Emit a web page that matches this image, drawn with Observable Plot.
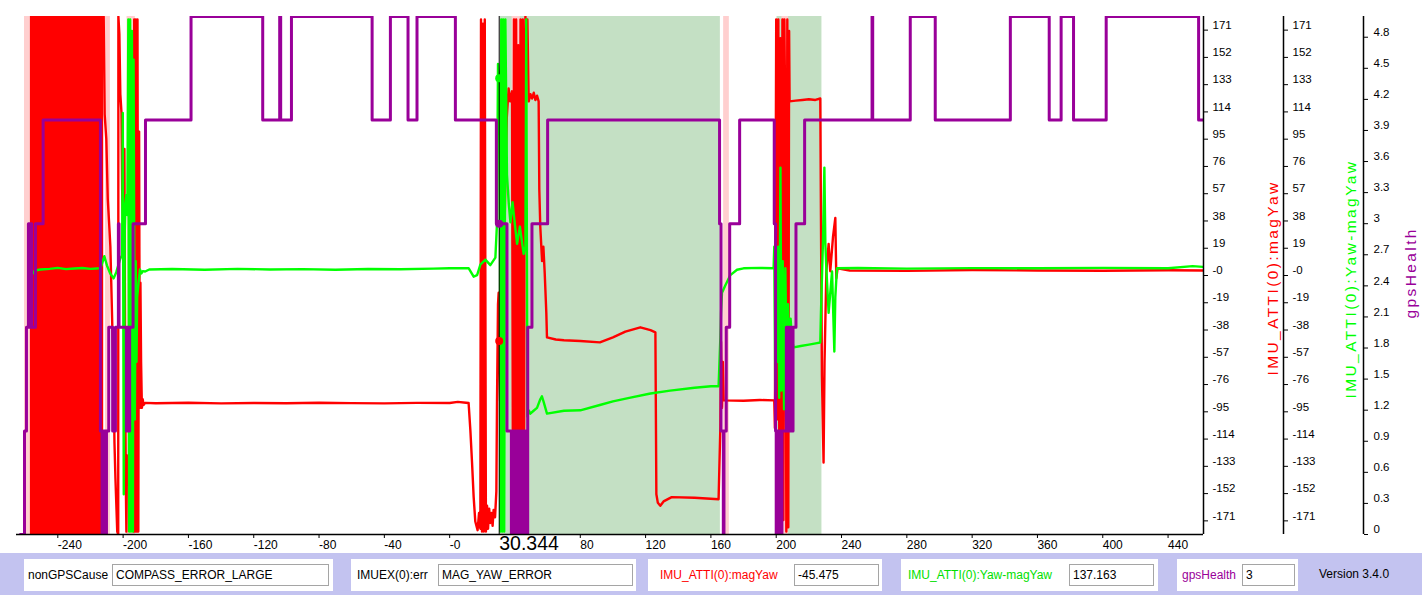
<!DOCTYPE html>
<html><head><meta charset="utf-8">
<script src="https://cdn.jsdelivr.net/npm/d3@7"></script>
<script src="https://cdn.jsdelivr.net/npm/@observablehq/plot@0.6"></script>
<style>
html,body{margin:0;padding:0;background:#fff;font-family:"Liberation Sans",Arial,sans-serif;}
#chart svg{display:block;}
.panel{position:relative;width:1422px;height:42px;background:#c3c3f0;}
.box{position:absolute;top:6px;height:32px;background:#fff;}
.lbl{position:absolute;top:0;line-height:32px;font-size:12px;white-space:nowrap;}
.inp{position:absolute;top:5px;height:20px;border:1px solid #a5a5a5;background:#fff;font-size:12px;line-height:20px;padding-left:3px;box-sizing:content-box;white-space:nowrap;}
.ver{position:absolute;left:1319px;top:0;line-height:42px;font-size:12px;}
</style></head>
<body>
<div id="chart"></div>
<div class="panel" id="panel"></div>
<script>
// ---------- data (time in s, values in degrees / health level) ----------
const magYawPts = [
 [-211.9,180],[-211.3,112],[-210.3,95],[-209.4,53],[-208.4,33],[-207.8,20],[-205.8,-74],[-205.3,-116],
 [-204.7,-141],[-203.6,-178],[-203.0,-180],[-202.9,180],[-202.3,168],[-201.7,126],[-201.0,113],[-200.6,60],
 [-200.0,33],[-199.6,10],[-199.2,88],[-198.8,-60],[-198.4,-138],[-198.0,-178],[-197.6,-125],[-197.0,-142],
 [-196.6,-130],[-195.5,-150],[-194.5,-165],[-193.5,-178],[-193.2,178],[-192.7,-178],[-192.2,178],[-191.7,-178],
 [-191.2,178],[-190.7,-178],[-190.2,100],[-189.8,-92],[-189.4,-5],[-189.0,-60],[-188.5,-92],[-188.0,-86],
 [-187.5,-90],[-186.5,-88.5],[-180,-88.8],[-160,-88.4],[-140,-88.9],[-120,-88.6],[-100,-88.8],[-80,-88.4],
 [-60,-88.7],[-40,-88.9],[-20,-88.5],[0,-88.6],[5,-87.8],[10,-88.4],[11.6,-88.6],[12.7,-108],[13.7,-130],
 [14.7,-154],[15.7,-171],[17.1,-177],[18.0,-165],[18.8,-176],[19.2,178],[19.8,-178],[20.4,175],[20.9,-178],
 [21.5,178],[22.2,-178],[22.9,-160],[23.5,-176],[24.2,-162],[24.9,-172],[25.6,-165],[26.3,-174],[26.9,-163],
 [27.8,-168],[28.6,-150],[29.0,-87],[29.6,-20],[30.0,-12],[30.344,-45.475],[30.9,-87],[31.5,-40],[32.3,-75],
 [33.0,-12],[34.0,60],[35.0,110],[36.1,130],[37.0,121],[38.2,128],[38.8,-178],[39.4,178],[40.0,-150],
 [40.7,178],[41.4,-178],[42.0,160],[42.7,-178],[43.4,178],[44.1,-170],[44.8,178],[45.5,-178],[46.0,150],
 [46.4,180],[47.0,150],[47.6,178],[48.4,121],[49.5,126],[50.5,123],[51.5,127],[52.5,122],[53.5,125],
 [54.5,121],[54.9,60],[55.5,34],[56.6,10],[57.4,20],[58.2,2],[59.2,-26],[59.6,-43],[65,-44.5],[70,-45],
 [80,-45.5],[92,-46.5],[100,-43],[107.6,-39],[116.8,-36],[123,-38],[126,-39.5],[126.6,-152],[127.5,-158],
 [129,-160],[131,-157],[136,-154],[150,-154.5],[164.7,-155.5],[165.8,-105],[166.2,-46],[166.8,-92],
 [167.3,-60],[167.8,-86.8],[180,-87],[190,-86.5],[198.8,-86.8],[199.2,-106],[200.0,178],[200.7,-100],
 [201.3,178],[202.0,-178],[202.6,165],[203.2,-178],[203.8,178],[204.4,-170],[205.0,178],[205.6,100],
 [206.2,-178],[206.8,178],[207.4,-175],[207.9,170],[208.2,121],[212,121.5],[216,122],[220,122.5],[224,122],
 [227,123],[227.4,41],[228.0,-69.7],[229.0,-130],[229.6,-60],[230.7,2.8],[232.1,22],[233.1,3],[234.8,27],
 [236.2,40],[236.8,-2],[237.6,5],[245,3.5],[280,3.2],[320,3.8],[360,3.5],[400,3.3],[440,3.6],[461.7,3.5]
];
const yawMinusMagPts = [
 [-255.4,1.4],[-254.0,3.5],[-250.6,4.2],[-245,4.6],[-240,5.3],[-235,4.4],[-230,4.9],[-225,5.2],[-220,4.6],
 [-213.9,5.0],[-212.9,8.3],[-211.5,13.4],[-209.9,7],[-207.9,1.4],[-205.8,-2],[-204.2,2.3],[-201.7,11.8],
 [-200.6,14],[-200.2,113],[-199.6,-152],[-199.0,30],[-198.6,50],[-198.0,56],[-197.4,42],[-196.8,178],
 [-196.3,-178],[-195.7,178],[-195.2,-178],[-194.6,170],[-194.0,-178],[-193.6,150],[-193.2,20],[-192.8,-100],
 [-192.3,10],[-191.8,-60],[-191.4,-15],[-190.5,-4.6],[-189.7,4.2],[-188.8,1.4],[-188.0,3.0],[-186.5,2.8],
 [-184,4.2],[-170,4.5],[-150,4.0],[-130,4.6],[-110,4.2],[-90,4.4],[-70,4.0],[-50,4.5],[-30,4.3],[-10,4.8],
 [0,5.0],[11.6,5.1],[14.7,-0.8],[16.8,0.2],[18.8,7.6],[21.9,11],[24.9,7.2],[28.0,12.4],[29.0,36.7],
 [29.6,147],[30.344,137.163],[30.8,120],[31.0,-178],[31.6,178],[32.2,-178],[32.8,178],[33.4,-178],[34.1,178],
 [35.1,70],[36.2,50],[37.2,37],[38.5,51],[40.0,35],[41.3,22],[43.0,34],[45.3,15],[46.4,20],[46.9,178],
 [47.6,-98],[48.4,-93.7],[49.4,-96],[51.4,-94],[53.5,-92],[55.5,-86],[56.5,-84],[57.6,-88],[59.6,-96],
 [70,-94],[80,-93.7],[92,-90],[100,-87.5],[110,-85],[123,-82],[135,-80],[150,-78],[160,-77],[164.7,-77],
 [165.8,-43],[166.2,-26],[166.8,-12],[168.8,-7],[171.9,0.3],[176.0,4],[180.0,5],[190,5.3],[198.4,5],
 [198.8,20],[199.4,-80],[200.0,10],[200.6,-60],[201.2,20],[201.8,-85],[202.6,75],[203.2,-80],[204.0,10],
 [204.8,-93],[205.6,5],[206.4,-70],[207.2,-20],[208.0,-60],[208.8,-30],[209.7,-45],[210.7,-50],[215,-49],
 [220,-48],[225,-47],[227.0,-46.6],[227.4,-26],[228.6,22],[229.5,75],[230.1,22],[230.7,5],[232.1,-26],
 [234.2,2.8],[235.6,-52.8],[236.2,-15],[237.2,5],[250,5.2],[280,4.8],[320,5.1],[360,5.0],[400,5.3],
 [440,5.0],[455,6.5],[461.7,6.0]
];
const gpsHealthPts = [
 [-262.9,0],[-260.4,1],[-259.2,2],[-258.0,3],[-257.6,2],[-257.2,3],[-256.8,2],[-256.4,3],[-256.0,2],
 [-253.7,3],[-249.0,4],[-213.9,1],[-212.9,0],[-212.5,1],[-212.1,0],[-211.7,1],[-211.3,0],[-210.9,1],
 [-210.5,0],[-210.2,1],[-208.8,2],[-206.4,1],[-204.7,2],[-202.9,3],[-202.5,2],[-198.0,1],[-197.6,2],
 [-197.2,1],[-196.8,2],[-196.4,1],[-196.0,2],[-193.9,3],[-186.3,4],[-158.4,5],[-114.5,4],[-104.1,5],
 [-103.5,4],[-96.9,5],[-47.5,4],[-36.3,5],[-25.5,4],[-20.0,5],[3.5,4],[28.6,3],[35.1,1],[37.8,0],[38.4,1],
 [39.0,0],[39.6,1],[40.2,0],[40.8,1],[41.4,0],[42.0,1],[42.6,0],[43.2,1],[43.8,0],[44.4,1],[45.0,0],
 [45.6,1],[46.2,0],[46.8,1],[47.4,0],[47.8,2],[50.4,3],[60.0,4],[165.3,3],[166.2,1],[167.6,0],[168.0,1],
 [169.4,2],[171.5,3],[177.6,4],[198.8,3],[199.6,1],[200.0,0],[200.5,1],[201.0,0],[201.5,1],[202.0,0],
 [202.5,1],[203.0,0],[203.5,1],[206.2,2],[206.7,1],[207.2,2],[207.7,1],[208.2,2],[208.7,1],[209.2,2],
 [209.7,1],[210.3,2],[212.1,3],[217.4,4],[258.7,5],[259.1,4],[282.1,5],[297.4,4],[343.4,5],[367.2,4],
 [374.5,5],[382.1,4],[402.1,5],[458.7,4],[461.7,4]
];
// dense wrap-around noise of magYaw at the start (fills the whole range)
const noiseStart = [-256.8];
const noiseEnd = [-211.9];
// background state bands
const greenBandStart = [31.0, 200.5];
const greenBandEnd = [165.8, 228.0];
const pinkBandStart = [-260.4, -210.8, -197.6, 38.2, 167.8, 203.5];
const pinkBandEnd = [-256.8, -207.8, -192.5, 43.3, 171.3, 207.6];
// cursor
const cursorT = 30.344;
const cursorMagYaw = -45.475;
const cursorYawMinusMag = 137.163;
const cursorHealth = 3;
// axes
const xDomain = [-265.3, 461.7];
const xTickVals = [-240,-200,-160,-120,-80,-40,0,80,120,160,200,240,280,320,360,400,440];
const xTickLabels = ["-240","-200","-160","-120","-80","-40","-0","80","120","160","200","240","280","320","360","400","440"];
const yawTickVals = [-170.526,-151.579,-132.632,-113.684,-94.737,-75.789,-56.842,-37.895,-18.947,0,18.947,37.895,56.842,75.789,94.737,113.684,132.632,151.579,170.526];
const yawTickLabels = ["-171","-152","-133","-114","-95","-76","-57","-38","-19","-0","19","38","57","76","95","114","133","152","171"];
const healthTickVals = [0,0.3,0.6,0.9,1.2,1.5,1.8,2.1,2.4,2.7,3,3.3,3.6,3.9,4.2,4.5,4.8];
const healthTickLabels = ["0","0.3","0.6","0.9","1.2","1.5","1.8","2.1","2.4","2.7","3","3.3","3.6","3.9","4.2","4.5","4.8"];
const healthDomain = [0, 5];
const titles = ["IMU_ATTI(0):magYaw", "IMU_ATTI(0):Yaw-magYaw", "gpsHealth"];
const panelItems = [
  {label:"nonGPSCause", value:"COMPASS_ERROR_LARGE", color:"#000"},
  {label:"IMUEX(0):err", value:"MAG_YAW_ERROR", color:"#000"},
  {label:"IMU_ATTI(0):magYaw", value:"-45.475", color:"#ff0000"},
  {label:"IMU_ATTI(0):Yaw-magYaw", value:"137.163", color:"#00e000"},
  {label:"gpsHealth", value:"3", color:"#990099"}
];
const versionText = "Version 3.4.0";

// ---------- build ----------
const RED = "#ff0000", GREEN = "#00ff00", PURPLE = "#990099";
const yDomain = [-180, 180];
// gpsHealth is plotted on its own axis (0..5) that shares the vertical extent
const hToY = h => yDomain[0] + (h - healthDomain[0]) / (healthDomain[1] - healthDomain[0]) * (yDomain[1] - yDomain[0]);

const mag = magYawPts.map(([t, v]) => ({t, v}));
const yaw = yawMinusMagPts.map(([t, v]) => ({t, v}));
const health = gpsHealthPts.map(([t, h]) => ({t, y: hToY(h)}));
const greenBands = greenBandStart.map((s, i) => ({x1: s, x2: greenBandEnd[i]}));
const pinkBands = pinkBandStart.map((s, i) => ({x1: s, x2: pinkBandEnd[i]}));
const noise = noiseStart.map((s, i) => ({x1: s, x2: noiseEnd[i]}));
const xLab = new Map(xTickVals.map((v, i) => [v, xTickLabels[i]]));
const yLab = new Map(yawTickVals.map((v, i) => [v, yawTickLabels[i]]));
const hPos = healthTickVals.map(hToY);
const hLab = new Map(hPos.map((v, i) => [v, healthTickLabels[i]]));

const axisOffsets = [0, 80, 160];
const titleStyle = {rotate: -90, fontSize: 15.5, frameAnchor: "right", textAnchor: "start"};
const marks = [
  Plot.rect(greenBands, {x1: "x1", x2: "x2", y1: yDomain[0], y2: yDomain[1], fill: "#c4e0c4"}),
  Plot.rect(pinkBands, {x1: "x1", x2: "x2", y1: yDomain[0], y2: yDomain[1], fill: "#ffcfcf"}),
  Plot.rect(noise, {x1: "x1", x2: "x2", y1: yDomain[0], y2: yDomain[1], fill: RED}),
  Plot.line(mag, {x: "t", y: "v", stroke: RED, strokeWidth: 2.4, clip: true}),
  Plot.line(yaw, {x: "t", y: "v", stroke: GREEN, strokeWidth: 2.4, clip: true}),
  Plot.line(health, {x: "t", y: "y", stroke: PURPLE, strokeWidth: 3, curve: "step-after", clip: true}),
  Plot.ruleX([cursorT], {stroke: "#000", strokeWidth: 1}),
  Plot.dot([cursorT], {x: d => d, y: () => cursorMagYaw, r: 4, fill: RED}),
  Plot.dot([cursorT], {x: d => d, y: () => cursorYawMinusMag, r: 4, fill: GREEN}),
  Plot.dot([cursorT], {x: d => d, y: () => hToY(cursorHealth), r: 4, fill: PURPLE}),
  // x axis
  Plot.ruleY([yDomain[0]], {stroke: "#000", strokeWidth: 1.5}),
  Plot.axisX(xTickVals, {anchor: "bottom", tickSize: 4, tickPadding: 2, textAnchor: "start", fontSize: 12, tickFormat: d => xLab.get(d), label: null}),
  Plot.text([cursorT], {x: d => d, frameAnchor: "bottom", lineAnchor: "top", dy: 2, textAnchor: "start", text: d => String(d), fontSize: 19.5, fill: "#000"}),
  // right axes lines
  ...axisOffsets.map(dx => Plot.ruleX([xDomain[1]], {stroke: "#000", strokeWidth: 1.5, dx})),
  // magYaw & Yaw-magYaw axes
  ...[0, 80].map(dx => Plot.axisY(yawTickVals, {anchor: "right", tickSize: 4, fill: "none", dx, label: null})),
  ...[0, 80].map(dx => Plot.axisY(yawTickVals, {anchor: "right", tickSize: 4, tickPadding: 5, stroke: "none", dx, dy: -5, fontSize: 11.5, tickFormat: d => yLab.get(d), label: null})),
  // gpsHealth axis
  Plot.axisY(hPos, {anchor: "right", tickSize: 4, fill: "none", dx: 160, label: null}),
  Plot.axisY(hPos, {anchor: "right", tickSize: 4, tickPadding: 6, stroke: "none", dx: 160, dy: -5, fontSize: 11.5, tickFormat: d => hLab.get(d), label: null}),
  // axis titles (start-anchored, reading upward)
  Plot.text([titles[0]], {...titleStyle, dx: 70, dy: 100, fill: RED}),
  Plot.text([titles[1]], {...titleStyle, dx: 148, dy: 123, fill: GREEN}),
  Plot.text([titles[2]], {...titleStyle, dx: 208, dy: 43, fill: PURPLE})
];

const svg = Plot.plot({
  width: 1422, height: 553,
  marginLeft: 16, marginRight: 219, marginTop: 16, marginBottom: 19,
  x: {domain: xDomain, label: null},
  y: {domain: yDomain, label: null},
  style: {fontFamily: "'Liberation Sans', Arial, sans-serif", background: "#fff", color: "#000", overflow: "visible"},
  marks
});
svg.querySelectorAll("text").forEach(t => {
  if (titles.includes(t.textContent)) t.style.letterSpacing = "2.4px";
});
document.getElementById("chart").appendChild(svg);

// ---------- bottom status panel ----------
const boxGeom = [
  {left: 24, width: 309, lx: 4, ix: 88, iw: 212},
  {left: 351, width: 285, lx: 6, ix: 87, iw: 190},
  {left: 648, width: 234, lx: 12, ix: 146, iw: 80},
  {left: 901, width: 257, lx: 7, ix: 168, iw: 80},
  {left: 1177, width: 121, lx: 5, ix: 65, iw: 48}
];
const panel = document.getElementById("panel");
panelItems.forEach((it, i) => {
  const g = boxGeom[i];
  const box = document.createElement("div");
  box.className = "box";
  box.style.left = g.left + "px"; box.style.width = g.width + "px";
  const l = document.createElement("div");
  l.className = "lbl"; l.style.left = g.lx + "px"; l.style.color = it.color; l.textContent = it.label;
  const inp = document.createElement("div");
  inp.className = "inp"; inp.style.left = g.ix + "px"; inp.style.width = g.iw + "px"; inp.textContent = it.value;
  box.appendChild(l); box.appendChild(inp); panel.appendChild(box);
});
const ver = document.createElement("div");
ver.className = "ver"; ver.textContent = versionText; panel.appendChild(ver);
</script>
</body></html>
